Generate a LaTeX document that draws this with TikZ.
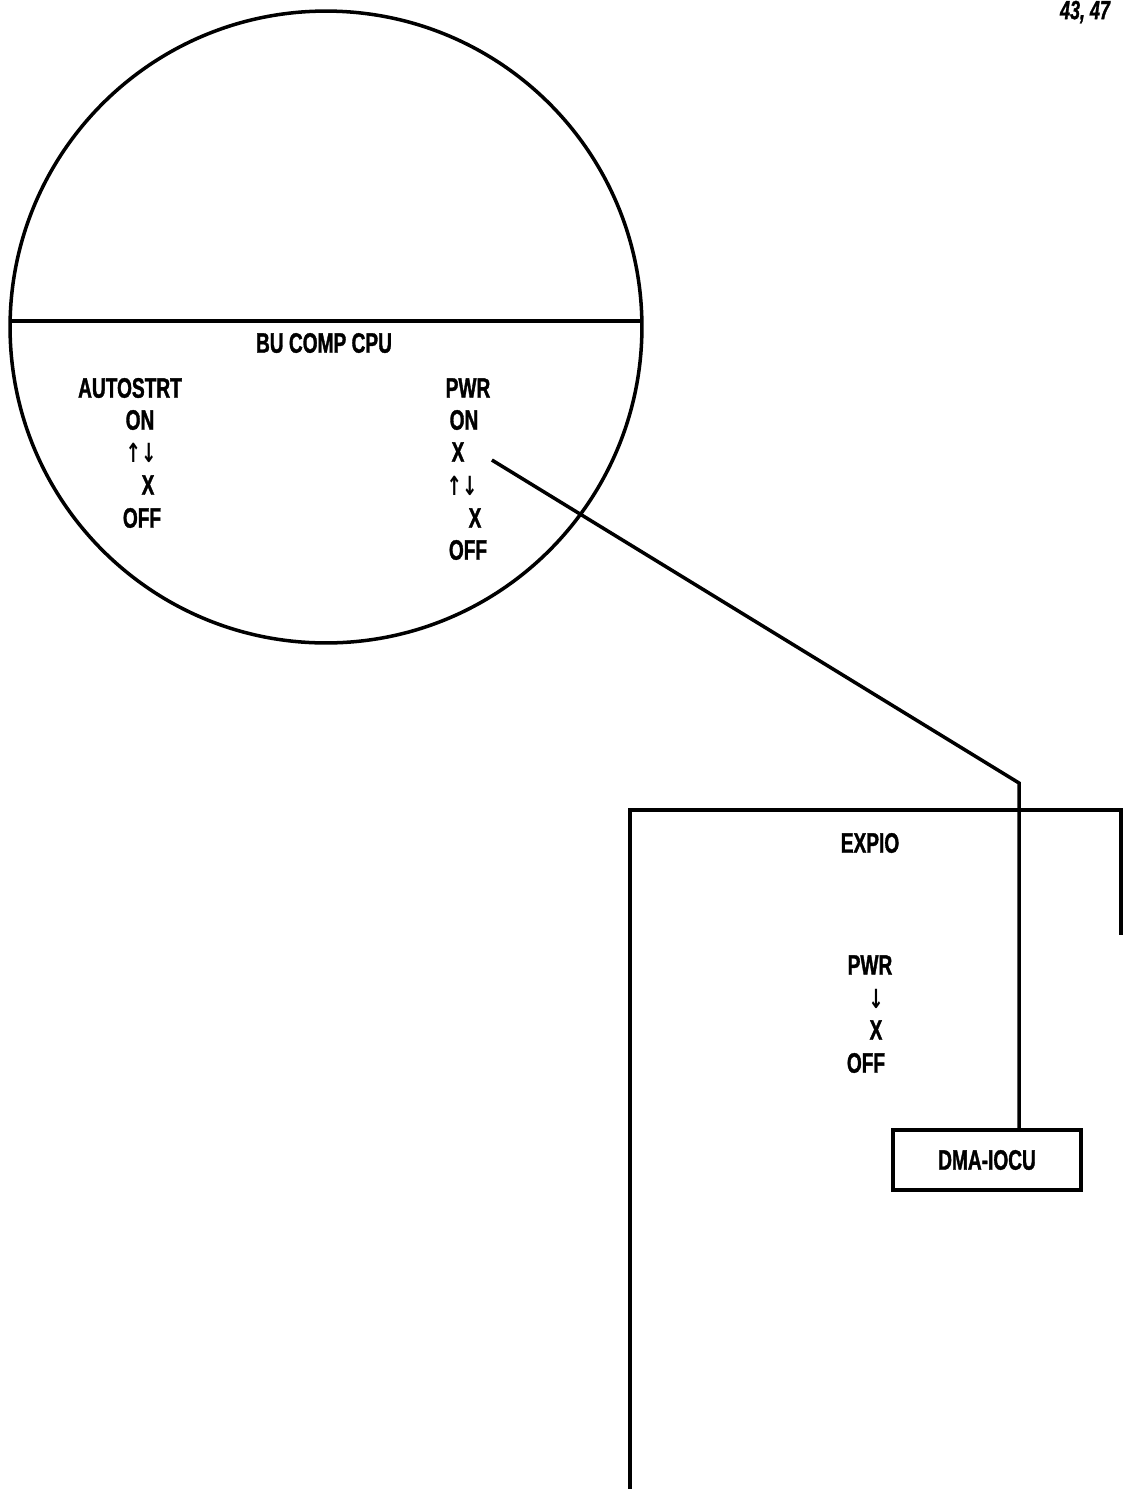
\documentclass[tikz,border=0pt]{standalone}
\usepackage{fontspec}
\setsansfont{Liberation Sans}[FakeStretch=0.68, FakeBold=1.2]
\newfontfamily\arrowfont{DejaVu Sans}[FakeStretch=0.7]
\usepackage{tikz}

\begin{document}
\begin{tikzpicture}[x=0.02cm, y=-0.02cm, line width=2pt,
    lbl/.style={font=\sffamily\bfseries\fontsize{16}{18}\selectfont, inner sep=1pt},
    arr/.style={font=\arrowfont\bfseries\fontsize{15}{18}\selectfont, inner sep=1pt}]
    \useasboundingbox (0, 0) rectangle (1123, 1489);

    % page number
    \node[font=\sffamily\bfseries\itshape\fontsize{15}{17}\selectfont] at (1085, 12) (page) {43, 47};

    % magnified panel
    \node[draw, circle, minimum size=12.64cm, inner sep=0pt] at (326, 327) (cpu) {};
    \draw (10, 321) -- (642, 321);
    \node[lbl] at (324, 343) (title) {BU COMP CPU};

    \node[lbl] at (130, 388) (auto) {AUTOSTRT};
    \node[lbl] at (140, 420) (auton) {ON};
    \node[arr] at (141, 453) (autarr) {↑↓};
    \node[lbl] at (148, 485) (autx) {X};
    \node[lbl] at (142, 518) (autoff) {OFF};

    \node[lbl] at (468, 388) (pwr) {PWR};
    \node[lbl] at (464, 420) (pwron) {ON};
    \node[lbl] at (458, 452) (pwrx) {X};
    \node[arr] at (462, 486) (pwrarr) {↑↓};
    \node[lbl] at (475, 518) (pwrxb) {X};
    \node[lbl] at (468, 550) (pwroff) {OFF};

    % panel
    \draw (630, 1489) -- (630, 810) -- (1121, 810) -- (1121, 935);
    \node[lbl] at (870, 843) (expio) {EXPIO};
    \node[lbl] at (870, 965) (epwr) {PWR};
    \node[arr] at (876, 999) (earr) {↓};
    \node[lbl] at (876, 1030) (ex) {X};
    \node[lbl] at (866, 1063) (eoff) {OFF};

    \node[draw, lbl, minimum width=3.76cm, minimum height=1.2cm] at (987, 1160) (dma) {DMA-IOCU};

    % leader line
    \coordinate (bend) at (1019, 783);
    \draw (pwrx.east) ++(24, 8) coordinate (lead) (lead) -- (bend) -- (dma.north -| bend);
\end{tikzpicture}
\end{document}
